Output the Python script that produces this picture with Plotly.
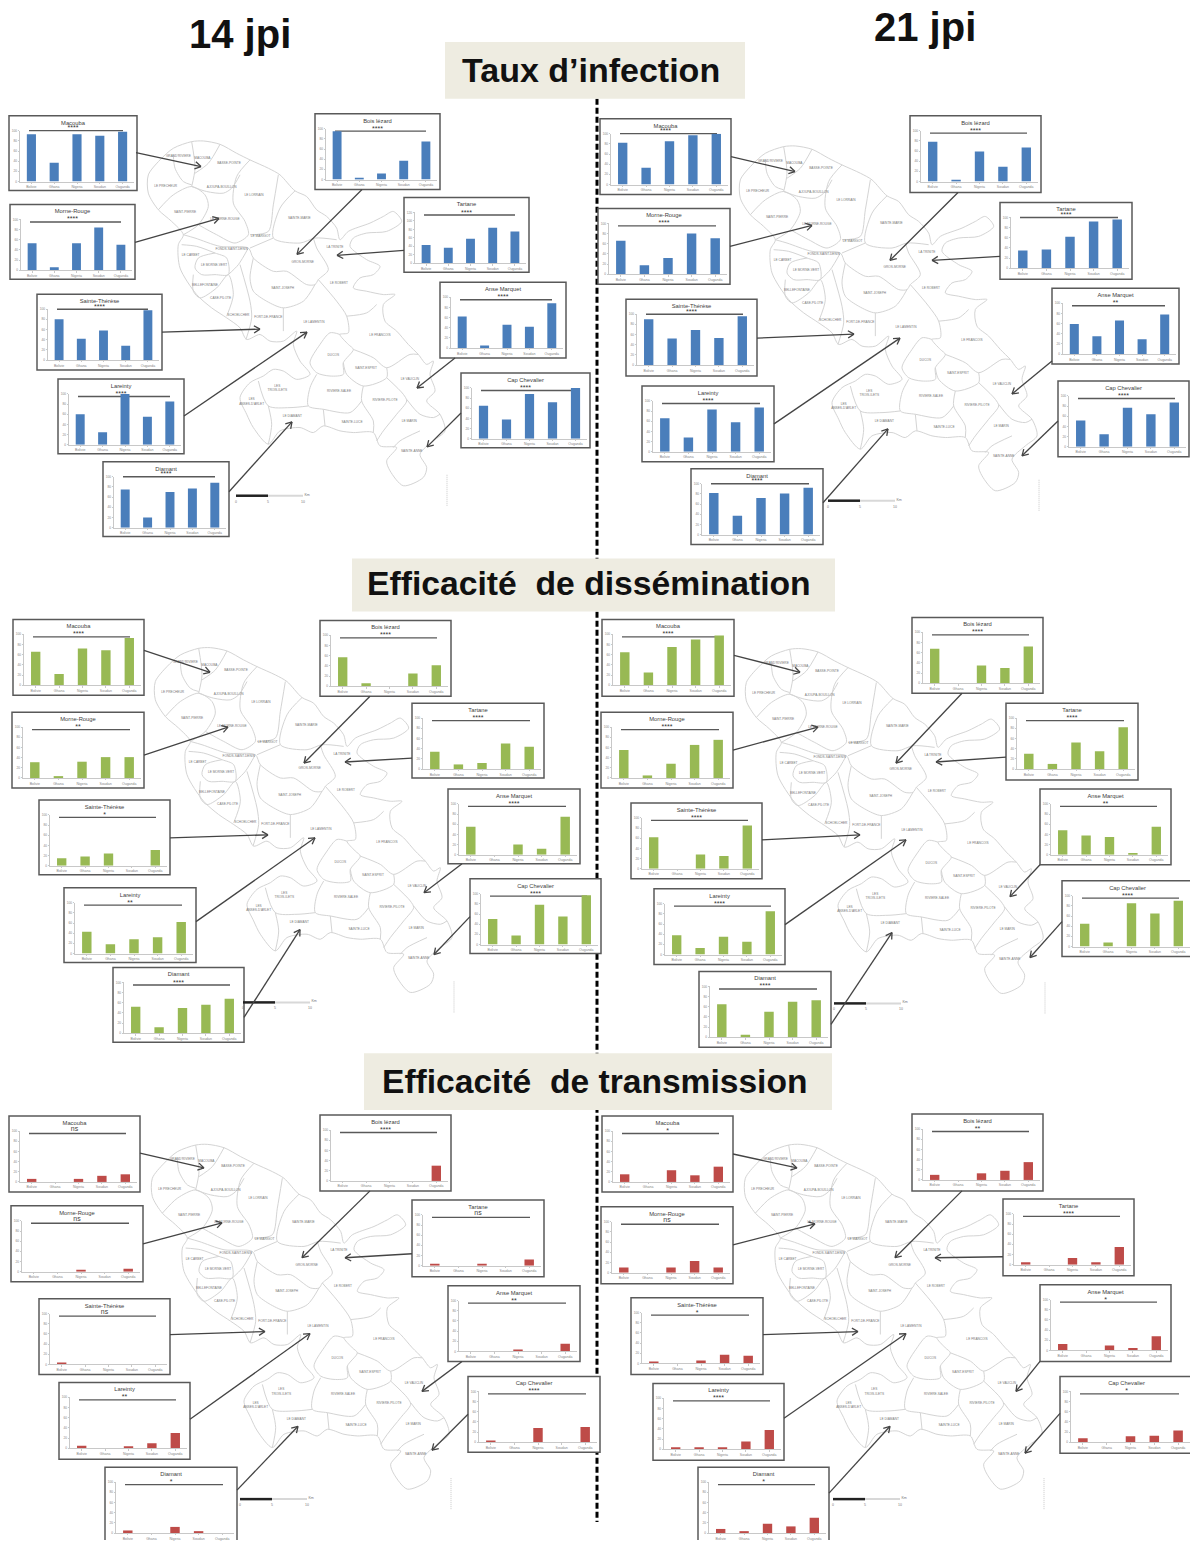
import math
import plotly.graph_objects as go

W, H = 1190, 1542
COUNTRIES = ["Bolivie", "Ghana", "Nigeria", "Soudan", "Ouganda"]
SITES = ["Macouba", "Bois lézard", "Morne-Rouge", "Tartane", "Sainte-Thérèse",
         "Anse Marquet", "Lareinty", "Cap Chevalier", "Diamant"]

# values, one row per site, in SITES order
INFECTION_14 = [[93, 37, 93, 90, 98], [95, 3, 12, 37, 75], [53, 6, 53, 84, 50],
                [43, 37, 58, 84, 75], [80, 42, 58, 28, 98], [62, 5, 46, 42, 88],
                [60, 25, 100, 55, 85], [65, 38, 88, 72, 100], [75, 20, 70, 77, 88]]
INFECTION_21 = [[82, 33, 85, 97, 100], [78, 3, 59, 29, 67], [66, 18, 32, 80, 71],
                [35, 37, 62, 92, 96], [90, 52, 69, 53, 96], [59, 35, 66, 29, 78],
                [66, 28, 83, 58, 87], [52, 25, 77, 64, 87], [82, 37, 72, 81, 92]]
DISSEM_14 = [[66, 22, 72, 69, 93], [57, 6, 0, 25, 41], [31, 3, 32, 41, 41],
             [34, 9, 12, 50, 44], [15, 18, 24, 0, 31], [55, 0, 20, 12, 75],
             [43, 18, 28, 32, 62], [50, 18, 78, 55, 97], [52, 12, 50, 56, 68]]
DISSEM_21 = [[65, 25, 75, 90, 98], [68, 0, 35, 30, 72], [55, 5, 28, 65, 75],
             [30, 10, 52, 35, 82], [62, 0, 28, 25, 85], [48, 38, 35, 3, 55],
             [38, 13, 35, 25, 85], [45, 8, 85, 65, 90], [65, 5, 50, 70, 73]]
TRANS_14 = [[6, 0, 6, 12, 15], [0, 0, 0, 0, 30], [0, 0, 3, 0, 6],
            [3, 0, 4, 0, 12], [3, 0, 0, 0, 0], [0, 0, 3, 0, 15],
            [5, 0, 3, 10, 30], [3, 0, 28, 0, 30], [5, 0, 12, 3, 0]]
TRANS_21 = [[15, 0, 23, 13, 30], [10, 0, 13, 18, 35], [10, 0, 10, 23, 10],
            [5, 0, 13, 5, 35], [2, 0, 6, 17, 15], [13, 0, 10, 5, 28],
            [2, 2, 3, 15, 38], [8, 0, 12, 13, 23], [8, 3, 18, 13, 30]]

STARS_INF_14 = ["****"] * 9
STARS_INF_21 = ["****"] * 5 + ["**"] + ["****"] * 3
STARS_DIS_14 = ["****", "****", "**", "****", "*", "****", "**", "****", "****"]
STARS_DIS_21 = ["****", "****", "****", "****", "****", "**", "****", "****", "****"]
STARS_TRA_14 = ["ns", "****", "ns", "ns", "ns", "**", "**", "****", "*"]
STARS_TRA_21 = ["*", "**", "ns", "****", "*", "*", "****", "*", "*"]

BLUE, GREEN, RED = "#4A7EBB", "#98B954", "#BE4B48"

# layout: chart frames (left, top, right, bottom) in page pixels
BOX_INF_14 = [(9, 114, 137, 189), (315, 112, 440, 188), (10, 203, 135, 278), (404, 196, 529, 271),
              (37, 293, 162, 369), (440, 281, 566, 357), (58, 378, 184, 453), (461, 372, 590, 447), (103, 461, 229, 536)]
BOX_INF_21 = [(600, 117, 731, 193), (910, 114, 1041, 191), (598, 207, 730, 283), (1000, 201, 1132, 278),
              (626, 298, 757, 375), (1052, 287, 1179, 363), (642, 385, 774, 461), (1058, 380, 1189, 456), (691, 468, 823, 544)]
BOX_DIS_14 = [(13, 619, 144, 695), (320, 620, 451, 696), (12, 712, 144, 788), (412, 703, 544, 778),
              (39, 800, 170, 875), (448, 789, 580, 864), (64, 888, 196, 963), (470, 879, 601, 954), (113, 968, 244, 1043)]
BOX_DIS_21 = [(602, 619, 734, 696), (912, 617, 1043, 693), (601, 712, 733, 788), (1006, 703, 1138, 780),
              (631, 803, 762, 879), (1040, 789, 1171, 865), (654, 889, 785, 965), (1062, 881, 1193, 957), (699, 972, 831, 1048)]
BOX_TRA_14 = [(9, 1117, 140, 1193), (320, 1116, 451, 1192), (11, 1207, 143, 1283), (412, 1201, 544, 1278),
              (39, 1300, 170, 1376), (448, 1287, 580, 1363), (59, 1384, 190, 1461), (468, 1378, 600, 1454), (105, 1469, 237, 1545)]
BOX_TRA_21 = [(602, 1117, 733, 1193), (912, 1115, 1043, 1192), (601, 1208, 733, 1285), (1003, 1200, 1134, 1277),
              (631, 1299, 763, 1376), (1040, 1286, 1171, 1363), (653, 1385, 784, 1462), (1060, 1378, 1193, 1455), (698, 1469, 829, 1545)]

# arrow tips, in page pixels, in SITES order
TIP_INF_14 = [(201, 165), (297, 253), (219, 217), (337, 254), (260, 328), (417, 387), (307, 331), (427, 446), (292, 421)]
TIP_INF_21 = [(795, 170), (890, 259), (812, 224), (932, 259), (854, 333), (1012, 393), (900, 337), (1022, 455), (888, 428)]
TIP_DIS_14 = [(210, 672), (304, 763), (228, 727), (345, 762), (268, 835), (424, 893), (315, 838), (434, 955), (300, 930)]
TIP_DIS_21 = [(800, 672), (896, 763), (818, 727), (936, 762), (860, 835), (1010, 897), (906, 840), (1030, 958), (892, 933)]
TIP_TRA_14 = [(204, 1169), (302, 1259), (222, 1224), (345, 1259), (265, 1333), (422, 1393), (310, 1335), (432, 1452), (298, 1428)]
TIP_TRA_21 = [(797, 1169), (895, 1259), (815, 1225), (935, 1259), (858, 1333), (1016, 1393), (906, 1335), (1025, 1455), (890, 1428)]
# arrow tails
TAIL_INF_14 = [(136, 151), (362, 188), (135, 241), (404, 249), (162, 331), (455, 357), (184, 415), (461, 412), (229, 491)]
TAIL_INF_21 = [(731, 155), (958, 191), (730, 245), (1000, 255), (757, 337), (1052, 360), (774, 423), (1058, 420), (823, 502)]
TAIL_DIS_14 = [(144, 650), (370, 696), (144, 755), (412, 758), (170, 838), (462, 864), (196, 922), (470, 917), (244, 1018)]
TAIL_DIS_21 = [(734, 655), (962, 693), (733, 750), (1006, 757), (762, 840), (1040, 865), (785, 925), (1062, 922), (831, 1025)]
TAIL_TRA_14 = [(140, 1154), (370, 1192), (143, 1245), (412, 1255), (170, 1336), (462, 1363), (190, 1421), (468, 1416), (237, 1492)]
TAIL_TRA_21 = [(733, 1155), (962, 1192), (733, 1246), (1003, 1258), (763, 1336), (1040, 1363), (784, 1420), (1060, 1415), (829, 1495)]

PANELS = [
    (INFECTION_14, STARS_INF_14, BOX_INF_14, TIP_INF_14, TAIL_INF_14, BLUE, (0, 0)),
    (INFECTION_21, STARS_INF_21, BOX_INF_21, TIP_INF_21, TAIL_INF_21, BLUE, (592, 5)),
    (DISSEM_14, STARS_DIS_14, BOX_DIS_14, TIP_DIS_14, TAIL_DIS_14, GREEN, (7, 508)),
    (DISSEM_21, STARS_DIS_21, BOX_DIS_21, TIP_DIS_21, TAIL_DIS_21, GREEN, (598, 509)),
    (TRANS_14, STARS_TRA_14, BOX_TRA_14, TIP_TRA_14, TAIL_TRA_14, RED, (4, 1006)),
    (TRANS_21, STARS_TRA_21, BOX_TRA_21, TIP_TRA_21, TAIL_TRA_21, RED, (597, 1006)),
]
# (panel, site) pairs whose title, stars and rule sit tighter at the top
COMPACT = {(0, 0), (0, 4), (1, 0), (1, 3), (1, 4), (1, 8), (0, 8)}

# outline of the island (drawing units, scaled in map_xy)
COAST = [(155, 30), (190, 28), (240, 38), (290, 65), (330, 85), (385, 110), (420, 130), (465, 178), (500, 195),
         (530, 235), (560, 255), (590, 290), (600, 325), (625, 300), (690, 275), (730, 255), (760, 240), (785, 270),
         (740, 300), (680, 305), (640, 320), (630, 345), (680, 385), (720, 405), (700, 430), (660, 440), (640, 470),
         (680, 480), (730, 490), (765, 490), (730, 520), (735, 570), (770, 600), (805, 640), (835, 670), (860, 700),
         (880, 690), (870, 730), (885, 780), (860, 810), (900, 850), (915, 900), (880, 930), (840, 970), (860, 1010),
         (850, 1040), (790, 1065), (750, 1020), (740, 990), (770, 950), (720, 945), (700, 905), (640, 905), (600, 900),
         (550, 885), (520, 905), (480, 890), (420, 900), (385, 940), (340, 890), (320, 850), (300, 800), (330, 755),
         (370, 735), (400, 715), (430, 720), (470, 745), (510, 730), (480, 690), (460, 640), (470, 600), (430, 630),
         (390, 630), (360, 610), (320, 625), (300, 590), (260, 560), (215, 530), (170, 490), (120, 410), (115, 340),
         (130, 310), (95, 270), (55, 235), (25, 185), (25, 130), (60, 85), (100, 50), (155, 30)]
BOUNDARIES = [
    [(155, 30), (165, 110), (155, 165)], [(240, 38), (205, 95), (165, 125)],
    [(100, 70), (105, 110), (130, 150), (155, 160)],
    [(55, 235), (100, 190), (155, 165), (195, 190), (205, 225), (175, 280), (130, 310)],
    [(155, 165), (200, 180), (250, 185), (275, 170), (300, 130)],
    [(330, 85), (290, 135), (280, 215), (315, 270), (325, 310), (285, 335), (230, 310), (175, 280)],
    [(415, 130), (400, 220), (385, 300), (330, 310)],
    [(465, 178), (420, 230), (400, 320), (480, 335), (525, 320), (590, 325)],
    [(330, 350), (400, 320)],
    [(130, 310), (165, 320), (240, 345), (325, 350), (340, 380), (400, 420), (440, 420), (500, 460), (525, 460),
     (535, 445), (565, 415), (530, 350), (520, 320)],
    [(325, 350), (295, 400), (265, 430)],
    [(340, 380), (330, 440), (340, 480), (380, 510), (430, 530), (490, 510), (525, 460)],
    [(300, 400), (330, 510), (335, 560), (318, 625)],
    [(125, 340), (170, 345), (225, 365), (260, 380), (265, 430), (225, 430), (185, 430), (165, 410), (175, 380), (225, 365)],
    [(160, 430), (160, 480), (180, 500), (230, 470), (265, 430), (280, 490), (260, 555)],
    [(430, 530), (430, 600)],
    [(535, 445), (590, 510), (620, 555), (625, 605), (600, 610), (625, 640), (640, 655), (610, 695), (610, 730),
     (570, 735), (530, 725), (510, 695), (540, 640), (570, 605), (600, 610)],
    [(620, 555), (680, 545), (710, 520)],
    [(640, 655), (700, 680), (740, 710), (810, 670), (835, 670)],
    [(610, 695), (620, 730), (670, 765), (740, 740), (740, 710)],
    [(740, 740), (790, 790), (800, 810), (770, 850), (730, 900), (710, 930)],
    [(670, 765), (665, 810), (700, 870), (700, 905)],
    [(530, 730), (510, 770), (505, 825), (550, 835), (630, 845), (665, 810)],
    [(505, 825), (450, 830), (385, 825), (355, 750)],
    [(385, 825), (395, 880), (385, 940)],
    [(550, 835), (555, 885)],
    [(800, 805), (840, 850), (880, 860), (900, 850)],
    [(840, 900), (780, 930), (760, 950)],
]
COMMUNES = [("GRAND'RIVIERE", 115, 73), ("MACOUBA", 187, 80), ("BASSE-POINTE", 267, 95), ("LE PRECHEUR", 77, 163),
            ("AJOUPA-BOUILLON", 245, 167), ("LE LORRAIN", 342, 191), ("SAINT-PIERRE", 135, 241),
            ("LE MORNE-ROUGE", 255, 263), ("SAINTE-MARIE", 478, 261), ("LE MARIGOT", 362, 313), ("LA TRINITE", 585, 347),
            ("FONDS-SAINT-DENIS", 275, 354), ("LE CARBET", 152, 372), ("GROS-MORNE", 488, 392),
            ("LE MORNE-VERT", 222, 402), ("LE ROBERT", 597, 456), ("BELLEFONTAINE", 195, 462),
            ("SAINT-JOSEPH", 428, 471), ("CASE-PILOTE", 242, 500), ("SCHOELCHER", 295, 553),
            ("FORT-DE-FRANCE", 385, 559), ("LE LAMENTIN", 522, 574), ("LE FRANCOIS", 720, 613), ("DUCOS", 580, 672),
            ("SAINT-ESPRIT", 678, 712), ("LE VAUCLIN", 810, 745), ("LES<br>TROIS-ILETS", 412, 772),
            ("RIVIERE-SALEE", 597, 780), ("RIVIERE-PILOTE", 735, 808), ("LES<br>ANSES-D'ARLET", 335, 812),
            ("LE DIAMANT", 457, 855), ("SAINTE-LUCE", 636, 874), ("LE MARIN", 808, 871), ("SAINTE-ANNE", 815, 961)]


def map_xy(p, off):
    return 140 + p[0] / 3 + off[0], 130 + p[1] / 3 + off[1]


fig = go.Figure()
shapes, annotations = [], []

# vertical dashed divider, then the beige heading bands over it
shapes.append(dict(type="line", xref="x", yref="y", x0=597, x1=597, y0=97, y1=1524, layer="below",
                   line=dict(color="black", width=3, dash="6px,3px")))
for x0, y0, x1, y1 in [(445, 40, 745, 97), (352, 558, 835, 611), (364, 1054, 832, 1111)]:
    shapes.append(dict(type="rect", xref="x", yref="y", x0=x0, x1=x1, y0=y0, y1=y1, layer="below",
                       fillcolor="#EEECE1", line=dict(width=0)))

# maps
mx, my, lx, ly, lt = [], [], [], [], []
for off in [p[6] for p in PANELS]:
    for poly in [COAST] + BOUNDARIES:
        for pt in poly:
            a, b = map_xy(pt, off)
            mx.append(a); my.append(b)
        mx.append(None); my.append(None)
    for name, a, b in COMMUNES:
        a2, b2 = map_xy((a, b), off)
        lx.append(a2); ly.append(b2); lt.append(name)
fig.add_trace(go.Scatter(x=mx, y=my, mode="lines", line=dict(color="#D4D4D4", width=1, shape="spline", smoothing=0.8),
                         hoverinfo="skip", showlegend=False, xaxis="x", yaxis="y"))
fig.add_trace(go.Scatter(x=lx, y=ly, mode="text", text=lt, textposition="middle center",
                         textfont=dict(size=3.2, color="#777777", family="Liberation Sans"),
                         hoverinfo="skip", showlegend=False, xaxis="x", yaxis="y"))

# scale bars and the small rotated credit mark of each map
for off in [p[6] for p in PANELS]:
    fig.add_trace(go.Scatter(x=[236 + off[0], 268 + off[0]], y=[495 + off[1]] * 2, mode="lines",
                             line=dict(color="#222222", width=2.5), hoverinfo="skip", showlegend=False))
    fig.add_trace(go.Scatter(x=[268 + off[0], 303 + off[0]], y=[495 + off[1]] * 2, mode="lines",
                             line=dict(color="#D8D8D8", width=2), hoverinfo="skip", showlegend=False))
    fig.add_trace(go.Scatter(x=[236 + off[0], 268 + off[0], 303 + off[0], 307 + off[0]],
                             y=[501 + off[1]] * 3 + [494 + off[1]], mode="text", text=["0", "5", "10", "Km"],
                             textfont=dict(size=3.5, color="#777777", family="Liberation Sans"),
                             hoverinfo="skip", showlegend=False))
    fig.add_trace(go.Scatter(x=[447 + off[0]] * 2, y=[474 + off[1], 506 + off[1]], mode="lines",
                             line=dict(color="#C8C8C8", width=1, dash="1px,1px"), hoverinfo="skip", showlegend=False))

# arrows
ax, ay = [], []
for panel in PANELS:
    for tip, tail in zip(panel[3], panel[4]):
        ang = math.atan2(tip[1] - tail[1], tip[0] - tail[0])
        ax += [tail[0], tip[0], None]
        ay += [tail[1], tip[1], None]
        for da in (2.6, -2.6):
            ax += [tip[0], tip[0] + 7 * math.cos(ang + da), None]
            ay += [tip[1], tip[1] + 7 * math.sin(ang + da), None]
fig.add_trace(go.Scatter(x=ax, y=ay, mode="lines", line=dict(color="#444444", width=1.3),
                         hoverinfo="skip", showlegend=False))

# small bar charts
layout_axes = {}
tx, ty, tt = [], [], []
sx, sy, st = [], [], []
nx, ny, nt = [], [], []
rx, ry = [], []
n = 2
for pi, (vals, stars, boxes, _, _, color, _) in enumerate(PANELS):
    for si, site in enumerate(SITES):
        x0, y0, x1, y1 = boxes[si]
        shapes.append(dict(type="rect", xref="x", yref="y", x0=x0, x1=x1, y0=y0, y1=y1, layer="below",
                           fillcolor="white", line=dict(color="#595959", width=1.5)))
        left, right = x0 + 11, min(x1 - 3, W)
        top, bottom = y0 + 15, y0 + 66
        ymax = 120 if (pi, si) == (0, 3) else 100
        xa, ya = f"xaxis{n}", f"yaxis{n}"
        layout_axes[xa] = dict(domain=[left / W, right / W], anchor=f"y{n}", type="category",
                               categoryorder="array", categoryarray=COUNTRIES, showgrid=False, zeroline=False,
                               showline=True, linecolor="#C8C8C8", linewidth=0.7, ticks="outside", ticklen=1.5,
                               tickcolor="#C8C8C8", tickwidth=0.5,
                               tickfont=dict(size=3.5, color="#858585", family="Liberation Sans"))
        layout_axes[ya] = dict(domain=[1 - bottom / H, 1 - top / H], anchor=f"x{n}", range=[0, ymax], dtick=20,
                               showgrid=False, zeroline=False, showline=True, linecolor="#C8C8C8", linewidth=0.7,
                               ticks="outside", ticklen=1.5, tickcolor="#C8C8C8", tickwidth=0.5,
                               tickfont=dict(size=3.2, color="#858585", family="Liberation Sans"))
        fig.add_trace(go.Bar(x=COUNTRIES, y=vals[si], marker=dict(color=color, line=dict(width=0)), width=0.4,
                             showlegend=False, xaxis=f"x{n}", yaxis=f"y{n}"))
        compact = (pi, si) in COMPACT
        cx = (x0 + x1) / 2
        tx.append(cx); ty.append(y0 + 7.5); tt.append(site)
        rule = y0 + (15 if compact else 17.5)
        rx += [x0 + 20, x1 - 14, None]; ry += [rule, rule, None]
        if stars[si] == "ns":
            nx.append(cx); ny.append(y0 + 13.5); nt.append("ns")
        else:
            sx.append(cx); sy.append(rule - 2.2); st.append(stars[si])
        n += 1

fig.add_trace(go.Scatter(x=rx, y=ry, mode="lines", line=dict(color="#595959", width=1.4), hoverinfo="skip", showlegend=False))
fig.add_trace(go.Scatter(x=tx, y=ty, mode="text", text=tt, textfont=dict(size=5.8, color="#404040", family="Liberation Sans"),
                         hoverinfo="skip", showlegend=False))
fig.add_trace(go.Scatter(x=sx, y=sy, mode="text", text=st, textfont=dict(size=7, color="#333333", family="Liberation Sans"),
                         hoverinfo="skip", showlegend=False))
fig.add_trace(go.Scatter(x=nx, y=ny, mode="text", text=nt, textfont=dict(size=7, color="#404040", family="Liberation Sans"),
                         hoverinfo="skip", showlegend=False))

# headings
HEADINGS = [("14 jpi", 240, 32, 40), ("21 jpi", 925, 25, 40), ("Taux d’infection", 591, 68, 34),
            ("Efficacité  de dissémination", 589, 583, 33.7), ("Efficacité  de transmission", 594, 1082, 33.6)]
for text, x, y, size in HEADINGS:
    annotations.append(dict(x=x, y=y, xref="x", yref="y", text=f"<b>{text}</b>", showarrow=False,
                            font=dict(size=size, color="#111111", family="Liberation Sans")))

fig.update_layout(width=W, height=H, margin=dict(l=0, r=0, t=0, b=0), paper_bgcolor="white", plot_bgcolor="rgba(0,0,0,0)",
                  showlegend=False, shapes=shapes, annotations=annotations,
                  xaxis=dict(domain=[0, 1], range=[0, W], visible=False),
                  yaxis=dict(domain=[0, 1], range=[H, 0], visible=False), **layout_axes)
fig.write_html("out.html", config=dict(displayModeBar=False),
               post_script="document.body.style.margin='0';document.body.style.overflow='hidden';")
